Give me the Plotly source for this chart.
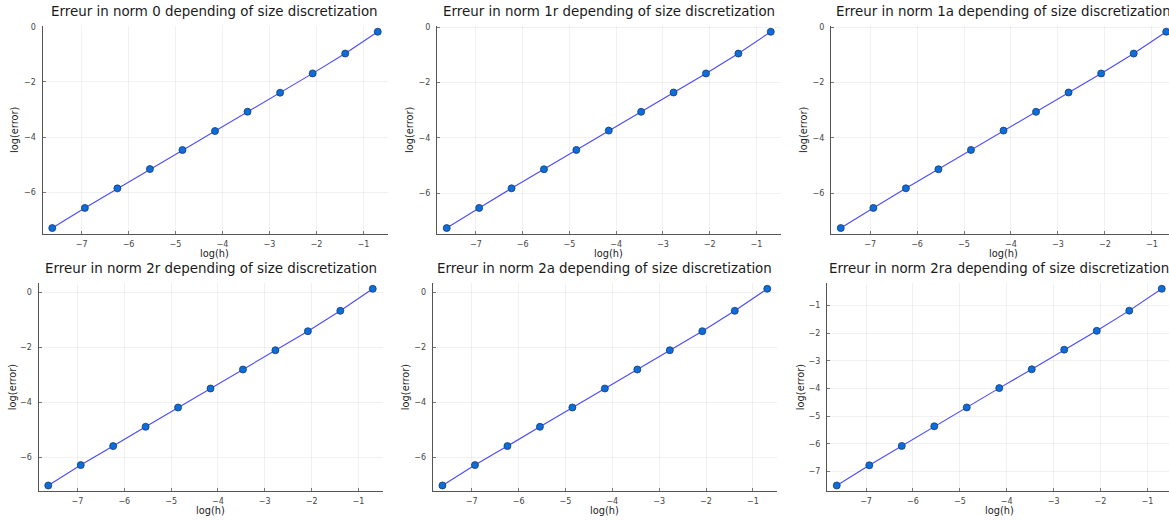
import plotly.graph_objects as go

# log of the mesh size h = 2^-k, k = 1..11
log_h = [-0.693, -1.386, -2.079, -2.773, -3.466, -4.159, -4.852, -5.545, -6.238, -6.931, -7.625]

# log of the error for each norm (same order as log_h)
err_norm_0 = [-0.18, -0.97, -1.69, -2.39, -3.08, -3.78, -4.47, -5.16, -5.86, -6.57, -7.30]
err_norm_1r = [-0.16, -0.95, -1.67, -2.36, -3.06, -3.74, -4.44, -5.14, -5.83, -6.54, -7.27]
err_norm_1a = [-0.16, -0.95, -1.67, -2.36, -3.06, -3.74, -4.44, -5.14, -5.83, -6.54, -7.27]
err_norm_2r = [0.13, -0.67, -1.41, -2.10, -2.80, -3.49, -4.18, -4.88, -5.58, -6.27, -7.01]
err_norm_2a = [0.13, -0.67, -1.41, -2.10, -2.80, -3.49, -4.18, -4.88, -5.58, -6.27, -7.01]
err_norm_2ra = [-0.39, -1.18, -1.91, -2.59, -3.30, -3.98, -4.68, -5.36, -6.07, -6.77, -7.50]

norm_names = ["0", "1r", "1a", "2r", "2a", "2ra"]
norm_errors = [err_norm_0, err_norm_1r, err_norm_1a, err_norm_2r, err_norm_2a, err_norm_2ra]
y_dticks = [2, 2, 2, 2, 2, 1]

W, H = 1169, 522

# plot-area boxes in pixels: (left, right, top, bottom)
boxes = [
    (42.5, 387.5, 23.0, 232.3),
    (437.0, 780.5, 23.0, 232.3),
    (831.0, 1176.0, 23.0, 232.3),
    (38.5, 382.5, 281.5, 491.2),
    (432.7, 777.0, 281.5, 491.2),
    (827.0, 1171.5, 281.5, 491.2),
]
ylabel_x = [15, 410, 804, 12, 405, 800]

FONT = "DejaVu Sans"
TXT = "#1a1a1a"

fig = go.Figure()
annotations = []


def padded(vals, frac=0.03):
    lo, hi = min(vals), max(vals)
    pad = (hi - lo) * frac
    return lo - pad, hi + pad


for i, (name, err) in enumerate(zip(norm_names, norm_errors)):
    k = "" if i == 0 else str(i + 1)
    left, right, top, bottom = boxes[i]

    x0, x1 = padded(log_h)
    y0, y1 = padded(err)

    # clip plot areas that run past the page edge, keeping the scale
    r_px = min(right, W)
    x1c = x0 + (x1 - x0) * (r_px - left) / (right - left)

    fig.add_trace(go.Scatter(
        x=log_h, y=err, mode="lines+markers",
        line=dict(color="#4a4aff", width=1.1),
        marker=dict(size=7, color="#0c6ddc", line=dict(color="#173a6b", width=0.8)),
        xaxis="x" + k, yaxis="y" + k, showlegend=False, cliponaxis=False,
    ))

    axis_common = dict(
        showgrid=True, gridcolor="rgba(0,0,0,0.055)", gridwidth=0.6,
        zeroline=False, showline=True, linecolor="#555555", linewidth=1.2,
        ticks="inside", ticklen=3, tickcolor="#777777", tickwidth=0.7,
        tickfont=dict(family=FONT, size=8, color="#444444"),
        fixedrange=True,
    )
    fig.update_layout({
        "xaxis" + k: dict(
            axis_common, domain=[left / W, r_px / W], range=[x0, x1c],
            anchor="y" + k, tickmode="linear", tick0=-7, dtick=1,
            ticklabelstandoff=2,
        ),
        "yaxis" + k: dict(
            axis_common, domain=[1 - bottom / H, 1 - top / H], range=[y0, y1],
            anchor="x" + k, tickmode="linear", tick0=0, dtick=y_dticks[i],
            ticklabelstandoff=4,
        ),
    })

    cx = (left + right) / 2
    annotations.append(dict(
        text=f"Erreur in norm {name} depending of size discretization",
        x=cx / W, y=1 - (top - 14) / H, xref="paper", yref="paper",
        xanchor="center", yanchor="middle", showarrow=False,
        font=dict(family=FONT, size=13.4, color=TXT),
    ))
    annotations.append(dict(
        text="log(h)", x=cx / W, y=1 - (bottom + 19.5) / H,
        xref="paper", yref="paper", xanchor="center", yanchor="middle",
        showarrow=False, font=dict(family=FONT, size=9.8, color=TXT),
    ))
    annotations.append(dict(
        text="log(error)", x=ylabel_x[i] / W, y=1 - ((top + bottom) / 2) / H,
        xref="paper", yref="paper", xanchor="center", yanchor="middle",
        textangle=-90, showarrow=False, font=dict(family=FONT, size=9.8, color=TXT),
    ))

fig.update_layout(
    width=W, height=H,
    margin=dict(l=0, r=0, t=0, b=0),
    paper_bgcolor="white", plot_bgcolor="white",
    annotations=annotations,
)

fig.write_html("out.html", config={"displayModeBar": False})
